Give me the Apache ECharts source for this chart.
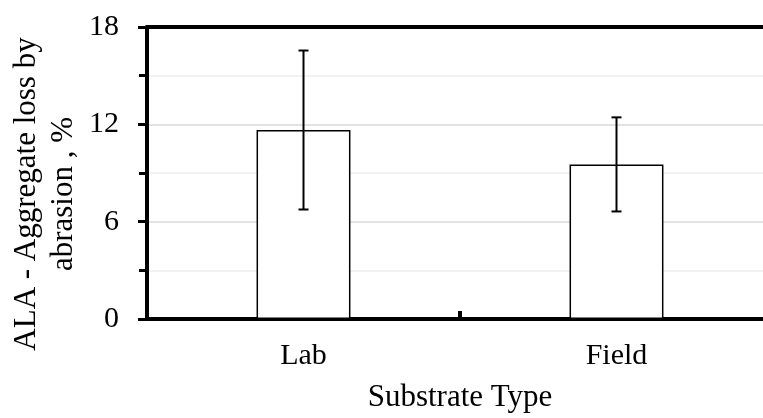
<!DOCTYPE html>
<html>
<head>
<meta charset="utf-8">
<script src="https://cdn.jsdelivr.net/npm/echarts@6/dist/echarts.min.js"></script>
<style>
  html, body { margin: 0; padding: 0; background: #fff; overflow: hidden; }
  #chart { width: 773px; height: 418px; }
</style>
</head>
<body>
<div id="chart"></div>
<script>
// the plot runs past the right edge of the picture, so the canvas is a bit wider than the window
var categories = ['Lab', 'Field'];
var means = [11.65, 9.53];
var errors = [4.9, 2.9];
var yTicks = [0, 6, 12, 18];

var serif = "'Liberation Serif', 'Times New Roman', serif";

var errData = [];
for (var i = 0; i < categories.length; i++) {
    errData.push([i, means[i] - errors[i], means[i] + errors[i]]);
}

var chart = echarts.init(document.getElementById('chart'));

var option = {
    animation: false,
    grid: { left: 147, right: 0, top: 27, bottom: 99 },
    xAxis: [{
        type: 'category',
        data: categories,
        position: 'bottom',
        name: 'Substrate Type',
        nameLocation: 'middle',
        nameGap: 63,
        nameTextStyle: { fontFamily: serif, fontSize: 31, color: '#000' },
        axisLine: { lineStyle: { color: '#000', width: 4 } },
        axisTick: { show: true, inside: true, length: 8, lineStyle: { color: '#000', width: 4 } },
        axisLabel: { fontFamily: serif, fontSize: 30, color: '#000', margin: 22 }
    }, {
        type: 'category',
        data: categories,
        position: 'top',
        axisLine: { lineStyle: { color: '#000', width: 4 } },
        axisTick: { show: false },
        axisLabel: { show: false }
    }],
    yAxis: {
        type: 'value',
        min: 0,
        max: 18,
        interval: 6,
        axisLine: { show: true, lineStyle: { color: '#000', width: 4 } },
        axisTick: { show: true, length: 9, lineStyle: { color: '#000', width: 3 } },
        minorTick: { show: true, splitNumber: 2, length: 8, lineStyle: { color: '#000', width: 3 } },
        splitLine: { show: true, lineStyle: { color: '#d9d9d9', width: 1.5 } },
        minorSplitLine: { show: true, lineStyle: { color: '#eeeeee', width: 1.5 } },
        axisLabel: {
            fontFamily: serif, fontSize: 30, color: '#000', margin: 28,
            formatter: function (v) { return yTicks.indexOf(v) >= 0 ? String(v) : ''; }
        }
    },
    graphic: [{
        type: 'text',
        x: 45,
        y: 194,
        rotation: Math.PI / 2,
        style: {
            text: 'ALA - Aggregate loss by\nabrasion , %',
            fontFamily: serif,
            fontSize: 31,
            lineHeight: 37,
            fill: '#000',
            align: 'center',
            verticalAlign: 'middle'
        }
    }],
    series: [{
        type: 'bar',
        data: means,
        barWidth: '30%',
        itemStyle: { color: '#fff', borderColor: '#000', borderWidth: 1.5 }
    }, {
        type: 'custom',
        data: errData,
        z: 10,
        renderItem: function (params, api) {
            var x = api.value(0);
            var lo = api.coord([x, api.value(1)]);
            var hi = api.coord([x, api.value(2)]);
            var cap = 5;
            var style = { stroke: '#000', lineWidth: 2 };
            return {
                type: 'group',
                children: [
                    { type: 'line', shape: { x1: hi[0], y1: hi[1], x2: lo[0], y2: lo[1] }, style: style },
                    { type: 'line', shape: { x1: hi[0] - cap, y1: hi[1], x2: hi[0] + cap, y2: hi[1] }, style: style },
                    { type: 'line', shape: { x1: lo[0] - cap, y1: lo[1], x2: lo[0] + cap, y2: lo[1] }, style: style }
                ]
            };
        }
    }]
};

chart.setOption(option);
</script>
</body>
</html>
